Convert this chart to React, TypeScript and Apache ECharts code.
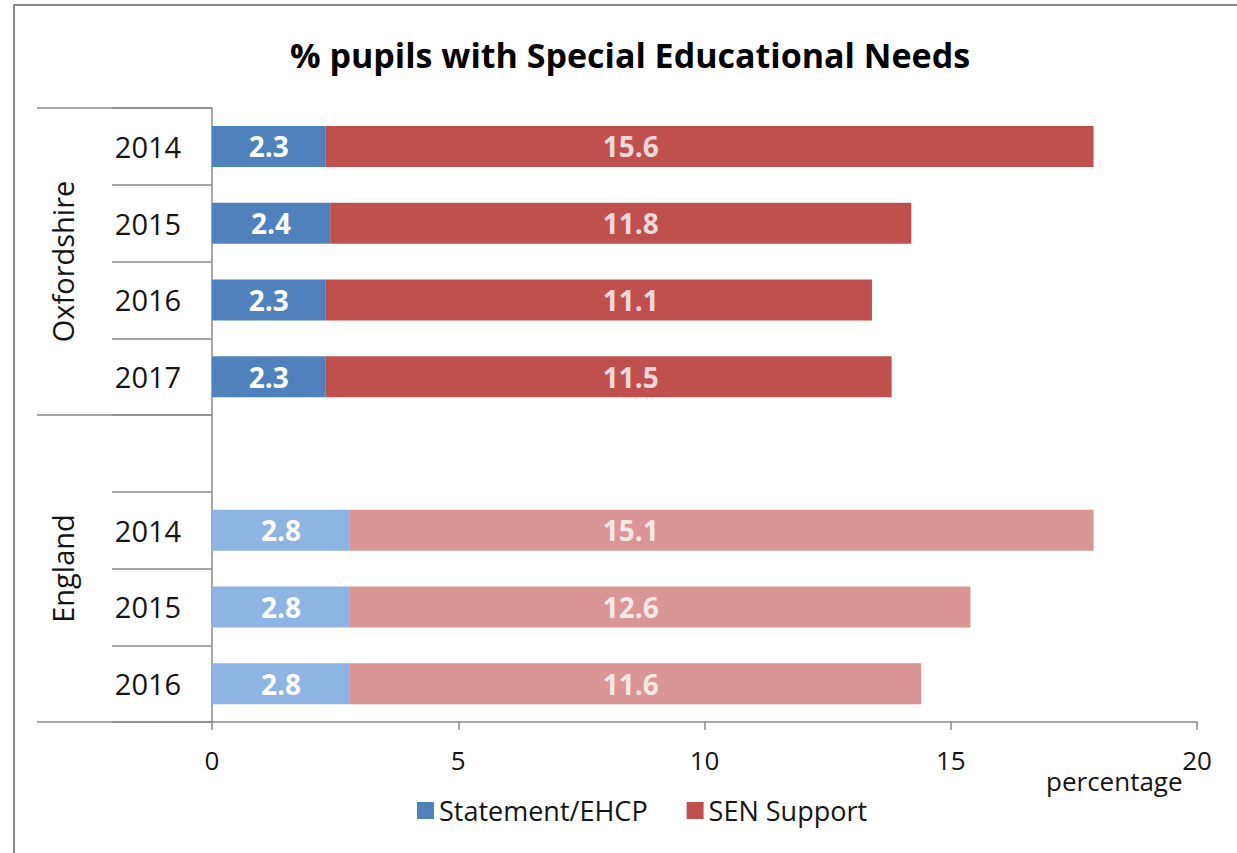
import React, { useEffect, useRef } from "react";
import * as echarts from "echarts";

// ---- data ----
const yearLabels = ["2014", "2015", "2016", "2017", "", "2014", "2015", "2016"];
const rowRegion = ["Oxfordshire", "Oxfordshire", "Oxfordshire", "Oxfordshire", "England", "England", "England", "England"];
const regionGroups = ["Oxfordshire", "England"];
const statementEHCP = [2.3, 2.4, 2.3, 2.3, null, 2.8, 2.8, 2.8];
const senSupport = [15.6, 11.8, 11.1, 11.5, null, 15.1, 12.6, 11.6];
const xTicks = { min: 0, max: 20, interval: 5 };
const SEN_LABEL_AT = 8.5; // value on the x axis where SEN Support labels sit

const FONT = "'Open Sans', 'Noto Sans', sans-serif";
const GRAY = "#8a8a8a";
const TEXT = "#141414";
const colors = {
  Oxfordshire: { statement: "#4F81BD", sen: "#C0504D" },
  England: { statement: "#8EB4E3", sen: "#D99694" },
};

export default function App() {
  const ref = useRef<HTMLDivElement>(null);

  useEffect(() => {
    const chart = echarts.init(ref.current!, null, { renderer: "svg" });

    const statementData = statementEHCP.map((v, i) =>
      v == null
        ? "-"
        : { value: v, itemStyle: { color: colors[rowRegion[i] as "Oxfordshire"].statement } }
    );
    const senData = senSupport.map((v, i) =>
      v == null ? "-" : { value: v, itemStyle: { color: colors[rowRegion[i] as "Oxfordshire"].sen } }
    );
    const senLabelData = senSupport
      .map((v, i) => (v == null ? null : [SEN_LABEL_AT, i, v]))
      .filter((d) => d != null);

    const option: any = {
      animation: false,
      backgroundColor: "#ffffff",
      title: {
        text: "% pupils with Special Educational Needs",
        left: 625,
        top: 33,
        textAlign: "center",
        textStyle: { fontFamily: FONT, fontSize: 34, fontWeight: "bold", color: "#000" },
      },
      legend: {
        data: ["Statement/EHCP", "SEN Support"],
        left: 417,
        top: 797,
        padding: 0,
        icon: "rect",
        itemWidth: 17,
        itemHeight: 17,
        itemGap: 39,
        textStyle: { fontFamily: FONT, fontSize: 27, color: TEXT },
      },
      grid: { left: 212, right: 40, top: 108, bottom: 131, containLabel: false },
      xAxis: {
        type: "value",
        min: xTicks.min,
        max: xTicks.max,
        interval: xTicks.interval,
        splitLine: { show: false },
        axisLine: { show: true, lineStyle: { color: GRAY, width: 1.5 } },
        axisTick: { show: true, length: 8, lineStyle: { color: GRAY, width: 1.5 } },
        axisLabel: { fontFamily: FONT, fontSize: 26, color: TEXT, margin: 25 },
      },
      yAxis: [
        {
          type: "category",
          data: yearLabels,
          inverse: true,
          position: "left",
          axisLine: { show: true, lineStyle: { color: GRAY, width: 1.5 } },
          axisTick: { show: true, length: 100, interval: 0, lineStyle: { color: GRAY, width: 1.5 } },
          axisLabel: {
            interval: 0,
            fontFamily: FONT,
            fontSize: 29,
            color: TEXT,
            margin: 64,
            align: "center",
            verticalAlign: "middle",
          },
        },
        {
          type: "category",
          data: regionGroups,
          inverse: true,
          position: "left",
          axisLine: { show: false },
          axisTick: { show: true, length: 175, interval: 0, lineStyle: { color: GRAY, width: 1.5 } },
          axisLabel: {
            interval: 0,
            rotate: 90,
            fontFamily: FONT,
            fontSize: 29,
            color: TEXT,
            margin: 150,
            align: "center",
            verticalAlign: "middle",
          },
        },
      ],
      series: [
        {
          name: "Statement/EHCP",
          type: "bar",
          stack: "total",
          yAxisIndex: 0,
          barWidth: 41,
          itemStyle: { color: colors.Oxfordshire.statement },
          label: {
            show: true,
            position: "inside",
            color: "#fff",
            fontFamily: FONT,
            fontSize: 28,
            fontWeight: "bold",
            formatter: (p: any) => Number(p.value).toFixed(1),
          },
          data: statementData,
        },
        {
          name: "SEN Support",
          type: "bar",
          stack: "total",
          yAxisIndex: 0,
          barWidth: 41,
          itemStyle: { color: colors.Oxfordshire.sen },
          data: senData,
        },
        {
          name: "SEN labels",
          type: "scatter",
          yAxisIndex: 0,
          symbolSize: 0,
          silent: true,
          z: 10,
          label: {
            show: true,
            position: "inside",
            color: "#fff",
            fontFamily: FONT,
            fontSize: 28,
            fontWeight: "bold",
            formatter: (p: any) => Number(p.value[2]).toFixed(1),
          },
          data: senLabelData,
        },
      ],
      graphic: [
        {
          type: "rect",
          shape: { x: 14, y: 5, width: 1400, height: 1000 },
          style: { fill: "none", stroke: GRAY, lineWidth: 2 },
          silent: true,
        },
        {
          type: "text",
          left: 1046,
          top: 768,
          style: { text: "percentage", fontFamily: FONT, fontSize: 26, fill: TEXT },
        },
      ],
    };

    chart.setOption(option);
    return () => chart.dispose();
  }, []);

  return (
    <div
      ref={ref}
      style={{ position: "fixed", left: 0, top: 0, width: 1237, height: 853, background: "#fff" }}
    />
  );
}
